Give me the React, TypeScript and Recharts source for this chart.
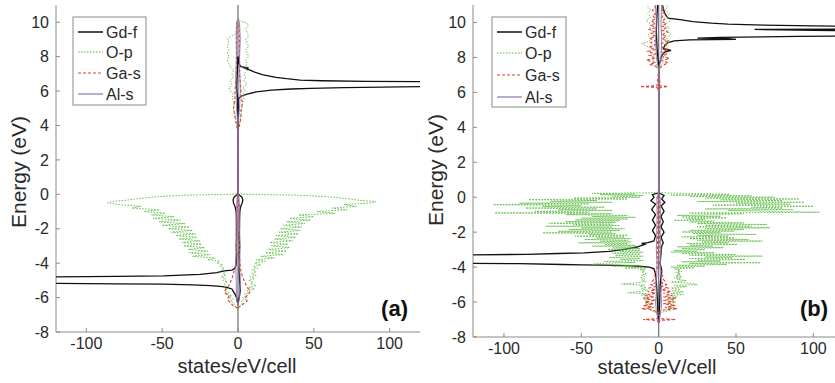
import React from 'react';
import { ScatterChart, Scatter, XAxis, YAxis, ReferenceLine, Customized } from 'recharts';

type P = [number, number]; // [energy (eV), states/eV/cell]

const X_TICKS = [-100, -50, 0, 50, 100];
const Y_TICKS = [-8, -6, -4, -2, 0, 2, 4, 6, 8, 10];
const Y_DOMAIN: [number, number] = [-8, 11];
const SERIES_NAMES = ['Gd-f', 'O-p', 'Ga-s', 'Al-s'];
const X_LABEL = 'states/eV/cell';
const Y_LABEL = 'Energy (eV)';

// ---------------- panel (a) ----------------
const A_GDF_UP: P[] = [
  [-6.3, 0], [-6.0, 0.8], [-5.6, 1.5], [-5.2, 1.2], [-4.8, 1], [-4.4, 0.8], [-4, 1], [-3.5, 0.8], [-3, 1], [-2.5, 0.8],
  [-2, 1], [-1.5, 1], [-1, 1.2], [-0.7, 1.8], [-0.5, 2.8], [-0.3, 3.2], [-0.15, 2.5], [-0.05, 1], [0.05, 0], [5.5, 0],
  [5.7, 2], [5.82, 6], [5.95, 12], [6.05, 22], [6.12, 35], [6.16, 48], [6.2, 70], [6.255, 120], [6.28, 260], [6.4, 600],
  [6.53, 260], [6.55, 120], [6.56, 85], [6.6, 55], [6.64, 41], [6.72, 32], [6.8, 25], [6.95, 16], [7.1, 11], [7.22, 8],
  [7.3, 5], [7.34, 7], [7.42, 2], [7.6, 0.5], [8, 0],
];
const A_GDF_DN: P[] = [
  [-6.4, 0], [-6.2, -0.5], [-6.0, -1], [-5.8, -2], [-5.65, -3], [-5.5, -4], [-5.42, -7], [-5.36, -10], [-5.3, -18], [-5.26, -30],
  [-5.22, -49], [-5.2, -80], [-5.18, -120], [-5.16, -300], [-5.0, -700], [-4.82, -300], [-4.8, -120], [-4.77, -80], [-4.74, -49], [-4.65, -25],
  [-4.55, -14], [-4.45, -9], [-4.4, -4], [-4.3, -2], [-4.1, -1.2], [-3.5, -1], [-3, -1.2], [-2.5, -1], [-2, -1], [-1.5, -1],
  [-1, -1.2], [-0.7, -2], [-0.5, -3], [-0.3, -3.2], [-0.15, -2.5], [-0.05, -1], [0.05, 0], [5.5, 0], [5.8, -0.5], [6.3, -1],
  [7, -0.5], [8, 0],
];
const A_OP_UP: P[] = [
  [-6.7, 0], [-6.5, 1], [-6.3, 3], [-6.2, 2], [-6.1, 5], [-6.0, 3], [-5.9, 6], [-5.8, 4], [-5.7, 8], [-5.6, 6],
  [-5.5, 11], [-5.4, 7], [-5.3, 12], [-5.2, 8], [-5.1, 10], [-5.0, 7], [-4.9, 11], [-4.8, 8], [-4.7, 12], [-4.6, 9],
  [-4.5, 12], [-4.4, 9], [-4.3, 13], [-4.2, 10], [-4.1, 15], [-4.0, 11], [-3.9, 18], [-3.8, 12], [-3.7, 24], [-3.6, 15],
  [-3.5, 30], [-3.4, 18], [-3.3, 32], [-3.2, 20], [-3.1, 34], [-3.0, 22], [-2.9, 33], [-2.8, 21], [-2.7, 36], [-2.6, 24],
  [-2.5, 38], [-2.4, 25], [-2.3, 40], [-2.2, 27], [-2.1, 41], [-2.0, 28], [-1.9, 42], [-1.8, 30], [-1.7, 44], [-1.6, 32],
  [-1.5, 48], [-1.4, 34], [-1.3, 50], [-1.2, 40], [-1.1, 64], [-1.0, 52], [-0.9, 72], [-0.8, 62], [-0.7, 78], [-0.6, 70],
  [-0.5, 88], [-0.42, 91], [-0.35, 80], [-0.25, 72], [-0.15, 60], [-0.05, 40], [0.0, 5], [0.05, 0],
];
const A_OP_UP_C: P[] = [
  [3.8, 0], [4.1, 1], [4.4, 1.5], [4.7, 2], [5.0, 2.5], [5.3, 3], [5.6, 4], [5.8, 3], [6.0, 5], [6.2, 3],
  [6.4, 6], [6.6, 4], [6.8, 5], [7.0, 4], [7.2, 6], [7.4, 5], [7.6, 6], [7.8, 5], [8.0, 7], [8.2, 6],
  [8.4, 5], [8.6, 7], [8.8, 6], [9.0, 5], [9.2, 7], [9.4, 6], [9.6, 5], [9.8, 7], [9.95, 6], [10.05, 2], [10.2, 0],
];
const A_OP_DN: P[] = [
  [-6.7, 0], [-6.5, -2], [-6.3, -3], [-6.2, -5], [-6.1, -3], [-6.0, -6], [-5.9, -4], [-5.8, -8], [-5.7, -6], [-5.6, -9],
  [-5.5, -7], [-5.4, -10], [-5.3, -8], [-5.2, -9], [-5.1, -7], [-5.0, -10], [-4.9, -8], [-4.8, -11], [-4.7, -8], [-4.6, -10],
  [-4.5, -8], [-4.4, -11], [-4.3, -9], [-4.2, -12], [-4.1, -10], [-4.0, -14], [-3.9, -12], [-3.8, -20], [-3.7, -15], [-3.6, -30],
  [-3.5, -18], [-3.4, -32], [-3.3, -20], [-3.2, -33], [-3.1, -22], [-3.0, -36], [-2.9, -24], [-2.8, -37], [-2.7, -25], [-2.6, -39],
  [-2.5, -27], [-2.4, -41], [-2.3, -28], [-2.2, -44], [-2.1, -30], [-2.0, -46], [-1.9, -32], [-1.8, -50], [-1.7, -35], [-1.6, -52],
  [-1.5, -38], [-1.4, -56], [-1.3, -42], [-1.2, -57], [-1.1, -48], [-1.0, -62], [-0.9, -52], [-0.8, -70], [-0.7, -64], [-0.6, -78],
  [-0.5, -86], [-0.42, -84], [-0.35, -74], [-0.25, -66], [-0.15, -55], [-0.05, -35], [0.0, -5], [0.05, 0],
];
const A_OP_DN_C: P[] = [
  [3.8, 0], [4.1, -1], [4.4, -1.5], [4.7, -2], [5.0, -3], [5.3, -2.5], [5.6, -4], [5.8, -3], [6.0, -5], [6.2, -6],
  [6.4, -4], [6.6, -5], [6.8, -3], [7.0, -4], [7.2, -3], [7.4, -5], [7.6, -6], [7.8, -7], [8.0, -6], [8.2, -7],
  [8.4, -6], [8.6, -7], [8.8, -6], [9.0, -7], [9.15, -5], [9.3, -2], [9.5, -1], [9.8, -0.5], [10.0, 0],
];
const A_GAS_UP: P[] = [
  [-6.6, 0], [-6.4, 3], [-6.2, 6], [-6.0, 5], [-5.8, 7], [-5.6, 8], [-5.4, 6], [-5.2, 5], [-5.0, 4], [-4.8, 3],
  [-4.5, 2], [-4.2, 1.5], [-3.5, 1], [-2, 0.8], [-0.5, 0.5], [0, 0], [3.6, 0], [4.0, 1], [4.5, 2], [5.0, 2],
  [5.3, 3], [5.6, 2], [6.0, 2], [6.5, 1.5], [7, 1], [8, 1], [9, 1], [10, 0.5],
];
const A_GAS_DN: P[] = [
  [-6.6, 0], [-6.5, -3], [-6.3, -5], [-6.1, -7], [-5.9, -6], [-5.7, -9], [-5.5, -8], [-5.3, -6], [-5.1, -5], [-4.9, -4],
  [-4.6, -3], [-4.3, -2], [-3.5, -1], [-2, -0.8], [-0.5, -0.5], [0, 0], [3.6, 0], [4.0, -1], [4.5, -2], [5.0, -3],
  [5.5, -2], [6.0, -2], [6.5, -1.5], [7, -1], [8, -1], [9, -1], [10, -0.5],
];
const A_ALS_UP: P[] = [
  [-6.5, 0], [-6, 1], [-5, 1.5], [-4, 1], [-3, 1.5], [-2, 1], [-1, 1.2], [0, 0.5], [0.1, 0], [4, 0],
  [5, 1], [6, 1.5], [7, 1.2], [8, 1], [9, 1.5], [10, 1], [10.2, 0],
];
const A_ALS_DN: P[] = [
  [-6.5, 0], [-6, -1], [-5, -1.2], [-4, -1.5], [-3, -1], [-2, -1.2], [-1, -1], [0, -0.5], [0.1, 0], [4, 0],
  [5, -1], [6, -1.2], [7, -1.5], [8, -1], [9, -1.2], [10, -1], [10.2, 0],
];

// ---------------- panel (b) ----------------
const B_GDF_UP: P[] = [
  [-7.2, 0], [-6.5, 0.5], [-5, 1], [-4.5, 1.5], [-4.2, 2], [-3.8, 1], [-3.2, 1.5], [-2.8, 2], [-2.6, 3], [-2.3, 1.5],
  [-2.0, 3.5], [-1.7, 1.5], [-1.4, 3], [-1.1, 1.5], [-0.8, 3.5], [-0.5, 1.5], [-0.3, 4], [-0.1, 2], [0.1, 3.5], [0.25, 0],
  [7.4, 0], [7.8, 1], [8.1, 2], [8.3, 4], [8.4, 8], [8.5, 3], [8.7, 4], [8.85, 6], [8.95, 10], [9.0, 20],
  [9.03, 50], [9.07, 45], [9.1, 25], [9.15, 40], [9.2, 90], [9.24, 150], [9.38, 500], [9.52, 150], [9.55, 100], [9.58, 79],
  [9.6, 62], [9.62, 150], [9.7, 400], [9.77, 150], [9.8, 100], [9.85, 68], [9.9, 45], [9.96, 34], [10.05, 22], [10.15, 15],
  [10.25, 6], [10.5, 4], [10.8, 3], [11.2, 2],
];
const B_GDF_DN: P[] = [
  [-7.2, 0], [-6.5, -0.5], [-5.5, -1], [-4.8, -1.5], [-4.4, -2], [-4.1, -3], [-4.0, -6], [-3.95, -13], [-3.92, -21], [-3.89, -36],
  [-3.87, -50], [-3.85, -62], [-3.8, -90], [-3.77, -140], [-3.55, -500], [-3.31, -140], [-3.27, -85], [-3.22, -65], [-3.19, -48], [-3.1, -32],
  [-3.0, -23], [-2.85, -14], [-2.7, -9], [-2.65, -11], [-2.6, -7], [-2.5, -3], [-2.2, -2], [-1.9, -4], [-1.6, -2], [-1.3, -4],
  [-1.0, -2], [-0.7, -4.5], [-0.4, -2], [-0.2, -5], [0.0, -3], [0.15, -4], [0.25, 0], [7.5, 0], [8.5, -1], [9.5, -1.5],
  [10.5, -1], [11.2, -0.5],
];
const B_OP_UP: P[] = [
  [0.3, 0], [0.25, 3], [0.2, 30], [0.16, 46], [0.12, 8], [0.08, 60], [0.04, 20], [0.0, 75], [-0.05, 30], [-0.1, 91],
  [-0.15, 40], [-0.2, 80], [-0.25, 25], [-0.29, 94], [-0.34, 50], [-0.4, 85], [-0.45, 35], [-0.52, 100], [-0.57, 60], [-0.62, 80],
  [-0.67, 30], [-0.71, 87], [-0.76, 45], [-0.81, 70], [-0.86, 104], [-0.9, 20], [-0.95, 55], [-0.99, 36], [-1.04, 12], [-1.09, 40],
  [-1.13, 15], [-1.18, 44], [-1.23, 18], [-1.28, 30], [-1.32, 10], [-1.37, 36], [-1.42, 20], [-1.47, 55], [-1.51, 25], [-1.56, 70],
  [-1.61, 30], [-1.66, 60], [-1.7, 25], [-1.75, 72], [-1.8, 30], [-1.85, 55], [-1.9, 20], [-1.94, 49], [-1.99, 15], [-2.04, 40],
  [-2.08, 22], [-2.13, 63], [-2.18, 25], [-2.23, 45], [-2.27, 15], [-2.32, 49], [-2.37, 20], [-2.42, 58], [-2.46, 25], [-2.51, 67],
  [-2.56, 28], [-2.61, 45], [-2.65, 18], [-2.7, 51], [-2.75, 20], [-2.8, 35], [-2.84, 12], [-2.89, 42], [-2.94, 15], [-3.0, 30],
  [-3.05, 10], [-3.1, 25], [-3.14, 8], [-3.18, 36], [-3.23, 15], [-3.28, 50], [-3.32, 20], [-3.37, 67], [-3.42, 30], [-3.47, 48],
  [-3.51, 20], [-3.56, 56], [-3.61, 25], [-3.66, 40], [-3.7, 15], [-3.75, 66], [-3.8, 20], [-3.85, 44], [-3.9, 12], [-3.95, 30],
  [-4.0, 8], [-4.04, 23], [-4.1, 10], [-4.15, 14], [-4.2, 12], [-4.25, 15], [-4.3, 11], [-4.35, 14], [-4.4, 12], [-4.45, 14],
  [-4.5, 11], [-4.55, 15], [-4.6, 10], [-4.65, 14], [-4.7, 12], [-4.78, 18], [-4.85, 8], [-4.92, 20], [-5.0, 25], [-5.05, 10],
  [-5.12, 18], [-5.2, 8], [-5.28, 14], [-5.35, 9], [-5.42, 16], [-5.5, 8], [-5.57, 16], [-5.64, 7], [-5.72, 12], [-5.8, 6],
  [-5.88, 10], [-5.95, 7], [-6.02, 11], [-6.1, 6], [-6.18, 10], [-6.25, 7], [-6.32, 10], [-6.4, 5], [-6.48, 8], [-6.56, 3],
  [-6.65, 1], [-6.8, 0],
];
const B_OP_DN: P[] = [
  [0.3, 0], [0.25, -5], [0.22, -43], [0.18, -15], [0.14, -38], [0.1, -10], [0.05, -30], [0.0, -12], [-0.05, -55], [-0.1, -20],
  [-0.14, -84], [-0.19, -40], [-0.24, -70], [-0.29, -30], [-0.34, -90], [-0.38, -45], [-0.43, -107], [-0.48, -50], [-0.53, -75], [-0.57, -35],
  [-0.62, -86], [-0.67, -40], [-0.72, -65], [-0.76, -30], [-0.81, -80], [-0.86, -45], [-0.9, -106], [-0.95, -30], [-1.0, -60], [-1.05, -20],
  [-1.1, -43], [-1.15, -15], [-1.2, -50], [-1.25, -20], [-1.3, -54], [-1.35, -25], [-1.4, -60], [-1.44, -28], [-1.49, -71], [-1.54, -30],
  [-1.58, -55], [-1.62, -25], [-1.66, -73], [-1.71, -30], [-1.76, -50], [-1.8, -22], [-1.85, -58], [-1.9, -25], [-1.95, -65], [-2.0, -30],
  [-2.04, -75], [-2.09, -28], [-2.14, -45], [-2.18, -20], [-2.23, -54], [-2.28, -22], [-2.33, -40], [-2.37, -18], [-2.42, -48], [-2.47, -20],
  [-2.52, -38], [-2.56, -18], [-2.61, -52], [-2.66, -20], [-2.71, -35], [-2.75, -15], [-2.8, -43], [-2.85, -15], [-2.9, -30], [-2.94, -12],
  [-2.99, -33], [-3.04, -12], [-3.1, -25], [-3.15, -10], [-3.2, -30], [-3.26, -12], [-3.32, -28], [-3.38, -10], [-3.45, -32], [-3.5, -12],
  [-3.56, -25], [-3.62, -10], [-3.68, -35], [-3.73, -15], [-3.79, -40], [-3.85, -43], [-3.9, -15], [-3.95, -30], [-4.0, -10], [-4.05, -22],
  [-4.1, -8], [-4.15, -12], [-4.22, -9], [-4.3, -11], [-4.38, -8], [-4.45, -11], [-4.52, -9], [-4.6, -12], [-4.68, -9], [-4.75, -11],
  [-4.82, -8], [-4.9, -14], [-4.97, -24], [-5.03, -9], [-5.1, -12], [-5.18, -8], [-5.25, -11], [-5.32, -7], [-5.4, -12], [-5.47, -20],
  [-5.52, -8], [-5.6, -11], [-5.68, -7], [-5.75, -10], [-5.82, -6], [-5.9, -9], [-5.98, -6], [-6.05, -9], [-6.12, -5], [-6.2, -8],
  [-6.28, -5], [-6.35, -7], [-6.42, -4], [-6.5, -5], [-6.6, -2], [-6.8, 0],
];
const B_OP_UP_C: P[] = [
  [7.2, 0], [7.5, 1], [7.7, 3], [7.9, 2], [8.1, 5], [8.3, 3], [8.5, 6], [8.7, 4], [8.9, 7], [9.1, 5],
  [9.3, 8], [9.5, 5], [9.7, 7], [9.9, 4], [10.1, 8], [10.3, 5], [10.5, 7], [10.7, 4], [10.9, 6], [11.1, 4],
];
const B_OP_DN_C: P[] = [
  [7.2, 0], [7.5, -1], [7.7, -2], [7.9, -4], [8.1, -3], [8.3, -6], [8.5, -4], [8.7, -9], [8.8, -11], [8.9, -6],
  [9.1, -5], [9.3, -7], [9.5, -4], [9.7, -6], [9.9, -5], [10.1, -8], [10.3, -5], [10.5, -7], [10.7, -5], [10.9, -7], [11.1, -5],
];
const B_GAS_UP: P[] = [
  [-7.2, 0], [-7.05, 1], [-7.0, 11], [-6.95, 1], [-6.6, 0], [-6.45, 3], [-6.38, 12], [-6.3, 4], [-6.2, 11], [-6.1, 3],
  [-6.0, 10], [-5.9, 3], [-5.8, 11], [-5.7, 3], [-5.6, 9], [-5.5, 3], [-5.4, 8], [-5.3, 2], [-5.2, 6], [-5.1, 2],
  [-5.0, 5], [-4.9, 2], [-4.8, 4], [-4.6, 2], [-4.4, 3], [-4.2, 1.5], [-4.0, 1], [-3, 0.8], [-2, 0.6], [-1, 0.5],
  [0, 0.5], [0.2, 0], [6.0, 0], [6.28, 1], [6.33, 6], [6.38, 1], [7.3, 0], [7.5, 2], [7.7, 6], [7.8, 2],
  [7.95, 7], [8.05, 2], [8.2, 5], [8.3, 2], [8.45, 6], [8.55, 2], [8.7, 5], [8.8, 2], [8.95, 6], [9.05, 2],
  [9.2, 5], [9.3, 2], [9.45, 6], [9.55, 2], [9.7, 5], [9.8, 2], [9.95, 5], [10.05, 2], [10.2, 4], [10.3, 2],
  [10.5, 4], [10.6, 2], [10.8, 3], [11.1, 2],
];
const B_GAS_DN: P[] = [
  [-7.2, 0], [-7.05, -1], [-7.0, -10], [-6.95, -1], [-6.6, 0], [-6.45, -4], [-6.38, -11], [-6.3, -3], [-6.2, -10], [-6.1, -3],
  [-6.0, -9], [-5.9, -2], [-5.8, -10], [-5.7, -3], [-5.6, -9], [-5.5, -2], [-5.4, -7], [-5.3, -2], [-5.2, -6], [-5.1, -2],
  [-5.0, -5], [-4.9, -2], [-4.8, -4], [-4.6, -2], [-4.4, -3], [-4.2, -1.5], [-4.0, -1], [-3, -0.8], [-2, -0.6], [-1, -0.5],
  [0, -0.5], [0.2, 0], [6.0, 0], [6.28, -1], [6.33, -12], [6.38, -1], [7.3, 0], [7.5, -2], [7.6, -6], [7.7, -2],
  [7.85, -8], [7.95, -2], [8.1, -6], [8.2, -2], [8.35, -7], [8.45, -2], [8.6, -6], [8.7, -2], [8.85, -5], [8.95, -2],
  [9.1, -6], [9.2, -2], [9.35, -5], [9.45, -2], [9.6, -6], [9.7, -2], [9.85, -5], [9.95, -2], [10.1, -5], [10.2, -2],
  [10.4, -4], [10.5, -2], [10.7, -4], [10.8, -2], [11.1, -3],
];
const B_ALS_UP: P[] = [
  [-7.2, 0], [-6.5, 1.5], [-6, 2], [-5.5, 1.5], [-5, 2], [-4.5, 1.5], [-4, 1], [-3, 1.5], [-2, 1], [-1, 1.2],
  [0, 1], [0.25, 0], [7.3, 0], [8, 1.5], [9, 2], [10, 1.5], [11, 2],
];
const B_ALS_DN: P[] = [
  [-7.2, 0], [-6.5, -1.5], [-6, -2], [-5.5, -1.5], [-5, -1.8], [-4.5, -1.2], [-4, -1], [-3, -1.5], [-2, -1.2], [-1, -1],
  [0, -1.2], [0.25, 0], [7.3, 0], [8, -1.5], [9, -2], [10, -1.5], [11, -2],
];

const STYLE: Record<string, { stroke: string; width: number; dash?: string }> = {
  'Gd-f': { stroke: '#111111', width: 1.3 },
  'O-p': { stroke: '#5cbb44', width: 0.9, dash: '1.6 1.4' },
  'Ga-s': { stroke: '#e2402e', width: 1.1, dash: '3 2' },
  'Al-s': { stroke: '#8a74b4', width: 0.9 },
};

const FONT = '"Liberation Sans", Arial, Helvetica, sans-serif';
const TEXT = '#2a2a2a';
const FRAME = '#8a8a8a';

type SeriesDef = { name: string; pts: P[] };

const PANEL_A: SeriesDef[] = [
  { name: 'Gd-f', pts: A_GDF_UP }, { name: 'Gd-f', pts: A_GDF_DN },
  { name: 'O-p', pts: A_OP_UP }, { name: 'O-p', pts: A_OP_DN },
  { name: 'O-p', pts: A_OP_UP_C }, { name: 'O-p', pts: A_OP_DN_C },
  { name: 'Ga-s', pts: A_GAS_UP }, { name: 'Ga-s', pts: A_GAS_DN },
  { name: 'Al-s', pts: A_ALS_UP }, { name: 'Al-s', pts: A_ALS_DN },
];
const PANEL_B: SeriesDef[] = [
  { name: 'Gd-f', pts: B_GDF_UP }, { name: 'Gd-f', pts: B_GDF_DN },
  { name: 'O-p', pts: B_OP_UP }, { name: 'O-p', pts: B_OP_DN },
  { name: 'O-p', pts: B_OP_UP_C }, { name: 'O-p', pts: B_OP_DN_C },
  { name: 'Ga-s', pts: B_GAS_UP }, { name: 'Ga-s', pts: B_GAS_DN },
  { name: 'Al-s', pts: B_ALS_UP }, { name: 'Al-s', pts: B_ALS_DN },
];

const toData = (pts: P[]) => pts.map(([E, v]) => ({ E, v }));
const NoDot = () => <g />;

type PanelProps = {
  series: SeriesDef[];
  width: number;
  margin: { top: number; right: number; bottom: number; left: number };
  xDomain: [number, number];
  rightFrame: boolean;
  tag: string;
  legend: { x: number; y: number; w: number; h: number; rows: number[] };
  xLabel: { x: number; y: number };
  yLabel: { x: number; y: number };
};

function Panel(p: PanelProps) {
  const { legend } = p;
  const Overlay = () => (
    <g fontFamily={FONT}>
      <rect x={legend.x} y={legend.y} width={legend.w} height={legend.h} fill="#fff" stroke={FRAME} strokeWidth={1} />
      {SERIES_NAMES.map((n, i) => (
        <g key={n}>
          <line x1={legend.x + 5} x2={legend.x + 30} y1={legend.rows[i]} y2={legend.rows[i]}
            stroke={STYLE[n].stroke} strokeWidth={n === 'Gd-f' ? 1.5 : 1.2} strokeDasharray={STYLE[n].dash} />
          <text x={legend.x + 33} y={legend.rows[i]} dy="0.36em" fontSize={16} fill={TEXT}>{n}</text>
        </g>
      ))}
      <text x={408} y={316} textAnchor="end" fontSize={22} fontWeight="bold" fill="#111">{p.tag}</text>
      <text x={p.xLabel.x} y={p.xLabel.y} textAnchor="middle" fontSize={20} fill={TEXT}>{X_LABEL}</text>
      <text x={p.yLabel.x} y={p.yLabel.y} textAnchor="middle" fontSize={21} fill={TEXT}
        transform={`rotate(-90 ${p.yLabel.x} ${p.yLabel.y})`}>{Y_LABEL}</text>
    </g>
  );
  return (
    <ScatterChart width={p.width} height={383} margin={p.margin}>
      <XAxis type="number" dataKey="v" domain={p.xDomain} ticks={X_TICKS} interval={0} allowDataOverflow
        stroke={FRAME} tickSize={-4} tickMargin={10} height={30}
        tick={{ fill: TEXT, fontSize: 16, fontFamily: FONT }} />
      <XAxis xAxisId="top" orientation="top" type="number" domain={p.xDomain} ticks={X_TICKS} interval={0}
        allowDataOverflow stroke={FRAME} tickSize={-4} height={0} tick={false} />
      <YAxis type="number" dataKey="E" domain={Y_DOMAIN} ticks={Y_TICKS} interval={0} allowDataOverflow
        stroke={FRAME} tickSize={-4} tickMargin={11} width={40}
        tick={{ fill: TEXT, fontSize: 16, fontFamily: FONT }} />
      {p.rightFrame && (
        <YAxis yAxisId="right" orientation="right" type="number" domain={Y_DOMAIN} ticks={Y_TICKS} interval={0}
          allowDataOverflow stroke={FRAME} tickSize={-4} width={0} tick={false} />
      )}
      <ReferenceLine x={0} stroke="#7a7a7a" strokeWidth={1.3} />
      {p.series.map((s, i) => (
        <Scatter key={i} name={s.name} data={toData(s.pts)} fill="none" shape={NoDot} isAnimationActive={false}
          line={{ stroke: STYLE[s.name].stroke, strokeWidth: STYLE[s.name].width, strokeDasharray: STYLE[s.name].dash }} />
      ))}
      <Customized component={Overlay} />
    </ScatterChart>
  );
}

export default function App() {
  return (
    <div style={{ position: 'absolute', left: 0, top: 0, width: 835, height: 383, overflow: 'hidden', background: '#fff' }}>
      <div style={{ position: 'absolute', left: 0, top: 0 }}>
        <Panel series={PANEL_A} width={421} margin={{ top: 5, right: 1, bottom: 21, left: 16 }} xDomain={[-120, 120]}
          rightFrame tag="(a)" legend={{ x: 73, y: 17, w: 73, h: 88, rows: [32, 52, 73, 94] }}
          xLabel={{ x: 237, y: 373 }} yLabel={{ x: 26, y: 172 }} />
      </div>
      <div style={{ position: 'absolute', left: 420, top: 0 }}>
        <Panel series={PANEL_B} width={415} margin={{ top: 5, right: 0, bottom: 16, left: 13 }} xDomain={[-120, 114]}
          rightFrame={false} tag="(b)" legend={{ x: 72, y: 17, w: 74, h: 90, rows: [32, 53, 75, 97] }}
          xLabel={{ x: 237, y: 374 }} yLabel={{ x: 23, y: 170 }} />
      </div>
    </div>
  );
}
